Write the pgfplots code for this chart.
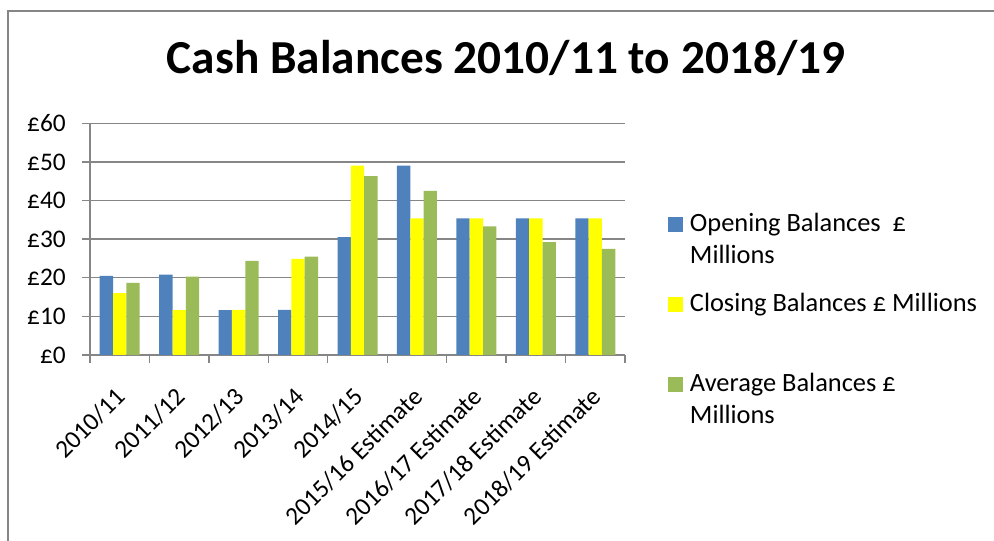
\documentclass[border=0pt]{standalone}
\usepackage{fontspec}
\setmainfont{Carlito}
\usepackage{pgfplots}
\pgfplotsset{compat=1.18}
\definecolor{cblue}{HTML}{4F81BD}
\definecolor{cyellow}{HTML}{FFFF00}
\definecolor{cgreen}{HTML}{9BBB59}
\definecolor{cgrid}{HTML}{868686}
% square legend marker; the invisible path fixes every legend row at the same height
\pgfplotsset{sqlegend/.style={legend image code/.code={%
	\path[draw=none, fill=none] (0pt,-42pt) -- (0pt,18pt);
	\fill[##1] (0pt,0pt) rectangle (11.25pt,11pt);}}}

\begin{document}
\begin{tikzpicture}
\path[use as bounding box] (0,0) rectangle (745.5pt,405.75pt);
\draw[cgrid, line width=1.3pt] (6pt,-1pt) -- (6pt,397.5pt) -- (746pt,397.5pt);
\node[anchor=base, font=\fontsize{35.5}{40}\selectfont\bfseries] at (379.5pt,350.5pt) {Cash Balances 2010/11 to 2018/19};
\begin{axis}[
	at={(67.5pt,139.5pt)}, anchor=south west,
	scale only axis, width=401.25pt, height=173.8pt,
	ybar=0pt, bar width=10pt,
	xmin=-0.5, xmax=8.5, ymin=0, ymax=60,
	xtick={-0.5,0.5,...,8.5},
	x tick label as interval,
	xticklabels={2010/11,2011/12,2012/13,2013/14,2014/15,2015/16 Estimate,2016/17 Estimate,2017/18 Estimate,2018/19 Estimate},
	ytick={0,10,...,60},
	yticklabel={£\pgfmathprintnumber{\tick}},
	/pgf/number format/assume math mode=true,
	axis lines*=left,
	axis line style={cgrid, line width=1pt},
	tick style={cgrid, line width=1pt},
	tick align=outside, major tick length=6pt,
	ymajorgrids, grid style={cgrid, line width=1pt},
	ticklabel style={font=\fontsize{19}{23}\selectfont},
	x tick label style={xshift=-4pt, yshift=-17pt, rotate=45, anchor=north east, inner sep=0pt},
	y tick label style={anchor=east, inner sep=0pt, xshift=-12pt},
	legend style={at={(1.0804,0.636)}, anchor=north west, draw=none, fill=none,
		inner sep=0pt, column sep=5pt, row sep=0pt,
		font=\fontsize{19.8}{24}\selectfont,
		cells={anchor=base west}, nodes={inner sep=0pt}},
]
\addplot[fill=cblue, draw=none, sqlegend] coordinates {
	(0,20.5) (1,20.8) (2,11.6) (3,11.7) (4,30.5) (5,49.0) (6,35.4) (7,35.4) (8,35.4)
};
\addlegendentry{\parbox[t]{240pt}{Opening Balances\ \ £\\Millions}}
\addplot[fill=cyellow, draw=none, sqlegend] coordinates {
	(0,16.0) (1,11.6) (2,11.7) (3,24.9) (4,49.0) (5,35.4) (6,35.4) (7,35.4) (8,35.4)
};
\addlegendentry{\parbox[t]{240pt}{Closing Balances £ Millions}}
\addplot[fill=cgreen, draw=none, sqlegend] coordinates {
	(0,18.65) (1,20.3) (2,24.4) (3,25.5) (4,46.3) (5,42.5) (6,33.3) (7,29.2) (8,27.5)
};
\addlegendentry{\parbox[t]{240pt}{Average Balances £\\Millions}}
\end{axis}
\end{tikzpicture}
\end{document}
